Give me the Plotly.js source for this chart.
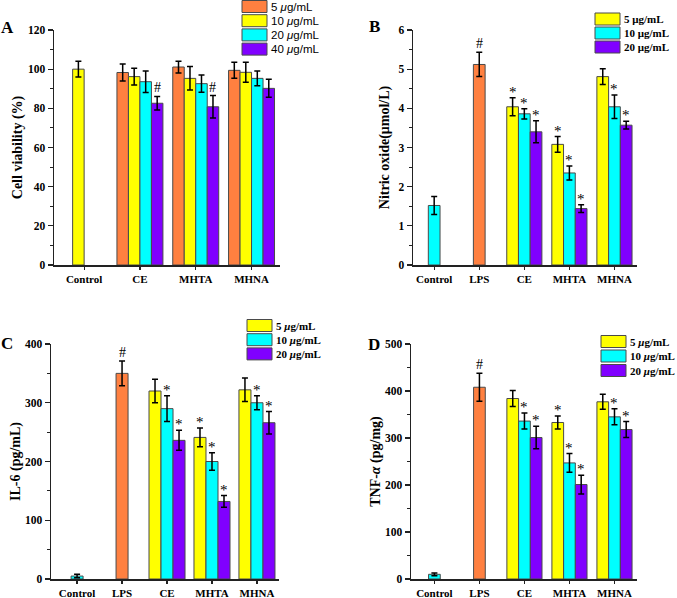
<!DOCTYPE html>
<html>
<head>
<meta charset="utf-8">
<script src="https://cdn.plot.ly/plotly-3.0.1.min.js"></script>
<style>
  html, body { margin: 0; padding: 0; background: #fff; }
  #chart { width: 677px; height: 598px; }
</style>
</head>
<body>
<div id="chart"></div>
<script>
// ---- data ----
const catsA = ['Control', 'CE', 'MHTA', 'MHNA'];
const catsBCD = ['Control', 'LPS', 'CE', 'MHTA', 'MHNA'];
const dosesA = ['5 <i>μ</i>g/mL', '10 <i>μ</i>g/mL', '20 <i>μ</i>g/mL', '40 <i>μ</i>g/mL'];
const dosesB = ['5 μg/mL', '10 μg/mL', '20 μg/mL'];
const dosesCD = ['5 <i>μ</i>g/mL', '10 <i>μ</i>g/mL', '20 <i>μ</i>g/mL'];

// A - cell viability (%)
const viab5 = [null, 98.3, 101.1, 99.4];
const viab5Err = [0, 4.3, 3.0, 4.1];
const viab10 = [100, 96.2, 95.3, 98.4];
const viab10Err = [4.0, 4.3, 6.0, 5.1];
const viab20 = [null, 93.6, 92.6, 95.3];
const viab20Err = [0, 5.5, 4.4, 3.8];
const viab40 = [null, 82.6, 80.8, 90.2];
const viab40Err = [0, 3.5, 5.7, 4.6];
const viab40Mark = ['', '#', '#', ''];

// B - nitric oxide (umol/L)
const no5 = [null, null, 4.04, 3.08, 4.81];
const no5Err = [0, 0, 0.23, 0.20, 0.20];
const no5Mark = ['', '', '*', '*', ''];
const no10 = [1.52, 5.12, 3.86, 2.35, 4.04];
const no10Err = [0.23, 0.31, 0.13, 0.18, 0.30];
const no10Mark = ['', '#', '*', '*', '*'];
const no20 = [null, null, 3.40, 1.44, 3.57];
const no20Err = [0, 0, 0.28, 0.10, 0.10];
const no20Mark = ['', '', '*', '*', '*'];

// C - IL-6 (pg/mL)
const il5 = [null, null, 320, 241, 322];
const il5Err = [0, 0, 20, 16, 20];
const il5Mark = ['', '', '', '*', ''];
const il10 = [5, 350, 290, 200, 300];
const il10Err = [3, 21, 22, 15, 12];
const il10Mark = ['', '#', '*', '*', '*'];
const il20 = [null, null, 236, 132, 266];
const il20Err = [0, 0, 17, 10, 19];
const il20Mark = ['', '', '*', '*', '*'];

// D - TNF-alpha (pg/mg)
const tnf5 = [null, null, 384, 333, 377];
const tnf5Err = [0, 0, 17, 14, 16];
const tnf5Mark = ['', '', '', '*', ''];
const tnf10 = [10, 408, 336, 247, 345];
const tnf10Err = [3, 30, 17, 20, 17];
const tnf10Mark = ['', '#', '*', '*', '*'];
const tnf20 = [null, null, 301, 201, 318];
const tnf20Err = [0, 0, 24, 20, 17];
const tnf20Mark = ['', '', '*', '*', '*'];

// ---- styling ----
const ORANGE = '#FF8040';
const YELLOW = '#FFFF00';
const CYAN = '#00FFFF';
const PURPLE = '#8000FF';
const SERIF = 'Liberation Serif, Times New Roman, serif';
const SANS = 'Liberation Sans, Arial, sans-serif';
const W = 677, H = 598;
const px = x => x / W;
const py = y => 1 - y / H;

// middle series: LPS bar drawn orange
const midColors = catsBCD.map(c => c === 'LPS' ? ORANGE : CYAN);
const legendSerif = {family: SERIF, size: 11, color: '#000', weight: 'bold'};

const panels = [
    {
        id: '', letter: 'A', letterPos: [7, 28],
        cats: catsA, xrange: [-0.54, 3.51], xdom: [54, 280],
        yrange: [0, 120], ydom: [265, 30], dtick: 20, minor: 10,
        ytitle: 'Cell viability (%)', standoff: 2, barW: 0.206,
        series: [
            {name: dosesA[0], y: viab5, err: viab5Err, color: ORANGE},
            {name: dosesA[1], y: viab10, err: viab10Err, color: YELLOW},
            {name: dosesA[2], y: viab20, err: viab20Err, color: CYAN},
            {name: dosesA[3], y: viab40, err: viab40Err, color: PURPLE, marks: viab40Mark}
        ],
        legend: {x: 242, y: 6.5, pitch: 14.2, font: {family: SANS, size: 11.5, color: '#000'}}
    },
    {
        id: '2', letter: 'B', letterPos: [374, 27],
        cats: catsBCD, xrange: [-0.47, 4.5], xdom: [413, 637],
        yrange: [0, 6], ydom: [265, 30], dtick: 1, minor: 0.5,
        ytitle: 'Nitric oxide(μmol/L)', standoff: 5, barW: 0.26,
        series: [
            {name: dosesB[0], y: no5, err: no5Err, color: YELLOW, marks: no5Mark},
            {name: dosesB[1], y: no10, err: no10Err, color: midColors, swatch: CYAN, marks: no10Mark},
            {name: dosesB[2], y: no20, err: no20Err, color: PURPLE, marks: no20Mark}
        ],
        legend: {x: 595, y: 19, pitch: 14, font: legendSerif}
    },
    {
        id: '3', letter: 'C', letterPos: [7, 344],
        cats: catsBCD, xrange: [-0.58, 4.49], xdom: [51, 279],
        yrange: [0, 400], ydom: [579, 344], dtick: 100, minor: 50,
        ytitle: 'IL-6 (pg/mL)', standoff: 1, barW: 0.267,
        series: [
            {name: dosesCD[0], y: il5, err: il5Err, color: YELLOW, marks: il5Mark},
            {name: dosesCD[1], y: il10, err: il10Err, color: midColors, swatch: CYAN, marks: il10Mark},
            {name: dosesCD[2], y: il20, err: il20Err, color: PURPLE, marks: il20Mark}
        ],
        legend: {x: 247, y: 325.5, pitch: 14.2, font: legendSerif}
    },
    {
        id: '4', letter: 'D', letterPos: [374.5, 345],
        cats: catsBCD, xrange: [-0.52, 4.5], xdom: [411, 637],
        yrange: [0, 500], ydom: [579, 344], dtick: 100, minor: 50,
        ytitle: 'TNF-<i>α</i> (pg/mg)', standoff: 1, barW: 0.26,
        series: [
            {name: dosesCD[0], y: tnf5, err: tnf5Err, color: YELLOW, marks: tnf5Mark},
            {name: dosesCD[1], y: tnf10, err: tnf10Err, color: midColors, swatch: CYAN, marks: tnf10Mark},
            {name: dosesCD[2], y: tnf20, err: tnf20Err, color: PURPLE, marks: tnf20Mark}
        ],
        legend: {x: 601, y: 341.5, pitch: 14.5, font: legendSerif}
    }
];

const traces = [];
const annotations = [];
const shapes = [];
const layout = {
    width: W, height: H,
    margin: {l: 0, r: 0, t: 0, b: 0},
    paper_bgcolor: '#fff', plot_bgcolor: '#fff',
    barmode: 'overlay',
    showlegend: false,
    font: {family: SERIF, color: '#000'}
};

panels.forEach(p => {
    const xa = 'x' + p.id, ya = 'y' + p.id;
    const n = p.series.length;

    p.series.forEach((s, k) => {
        const off = -n * p.barW / 2 + k * p.barW;
        traces.push({
            type: 'bar', name: s.name,
            x: p.cats.map((c, i) => i), y: s.y,
            xaxis: xa, yaxis: ya,
            width: p.barW, offset: off,
            marker: {color: s.color, line: {color: '#4a4a4a', width: 1}},
            error_y: {type: 'data', array: s.err, visible: true, color: '#000', thickness: 1.5, width: 3},
            hoverinfo: 'skip'
        });
        if (s.marks) {
            s.marks.forEach((m, i) => {
                if (!m || s.y[i] == null) return;
                annotations.push({
                    xref: xa, yref: ya,
                    x: i + off + p.barW / 2, y: s.y[i] + s.err[i],
                    text: m, showarrow: false, yanchor: 'bottom',
                    yshift: m === '*' ? -4 : -1,
                    font: {family: SERIF, size: m === '*' ? 15 : 14, color: '#000'}
                });
            });
        }
        // legend swatch + text
        const ly = p.legend.y + k * p.legend.pitch;
        shapes.push({
            type: 'rect', xref: 'paper', yref: 'paper',
            x0: px(p.legend.x), x1: px(p.legend.x + 25),
            y0: py(ly - 6), y1: py(ly + 6),
            fillcolor: s.swatch || s.color,
            line: {color: '#4a4a4a', width: 1}
        });
        annotations.push({
            xref: 'paper', yref: 'paper',
            x: px(p.legend.x + 27), y: py(ly),
            xanchor: 'left', yanchor: 'middle',
            text: s.name, showarrow: false,
            font: p.legend.font
        });
    });

    const axisLine = {showline: true, linecolor: '#222', linewidth: 1.5, zeroline: false, showgrid: false};
    layout['xaxis' + p.id] = Object.assign({}, axisLine, {
        domain: [px(p.xdom[0]), px(p.xdom[1])],
        anchor: ya, range: p.xrange,
        tickmode: 'array', tickvals: p.cats.map((c, i) => i), ticktext: p.cats,
        ticks: 'outside', ticklen: 3, tickwidth: 1.2, tickcolor: '#222',
        tickfont: {family: SERIF, size: 11, color: '#000', weight: 'bold'}
    });
    layout['yaxis' + p.id] = Object.assign({}, axisLine, {
        domain: [py(p.ydom[0]), py(p.ydom[1])],
        anchor: xa, range: p.yrange,
        dtick: p.dtick, tick0: 0,
        ticks: 'outside', ticklen: 5, tickwidth: 1.2, tickcolor: '#222',
        minor: {dtick: p.minor, ticks: 'outside', ticklen: 3, tickwidth: 1, tickcolor: '#222'},
        tickfont: {family: SERIF, size: 11.5, color: '#000', weight: 'bold'},
        title: {text: p.ytitle, standoff: p.standoff, font: {family: SERIF, size: 14, color: '#000', weight: 'bold'}}
    });

    annotations.push({
        xref: 'paper', yref: 'paper',
        x: px(p.letterPos[0]), y: py(p.letterPos[1]),
        xanchor: 'center', yanchor: 'middle',
        text: p.letter, showarrow: false,
        font: {family: SERIF, size: 17, color: '#000', weight: 'bold'}
    });
});

layout.annotations = annotations;
layout.shapes = shapes;

Plotly.newPlot('chart', traces, layout, {displayModeBar: false, staticPlot: true});
</script>
</body>
</html>
